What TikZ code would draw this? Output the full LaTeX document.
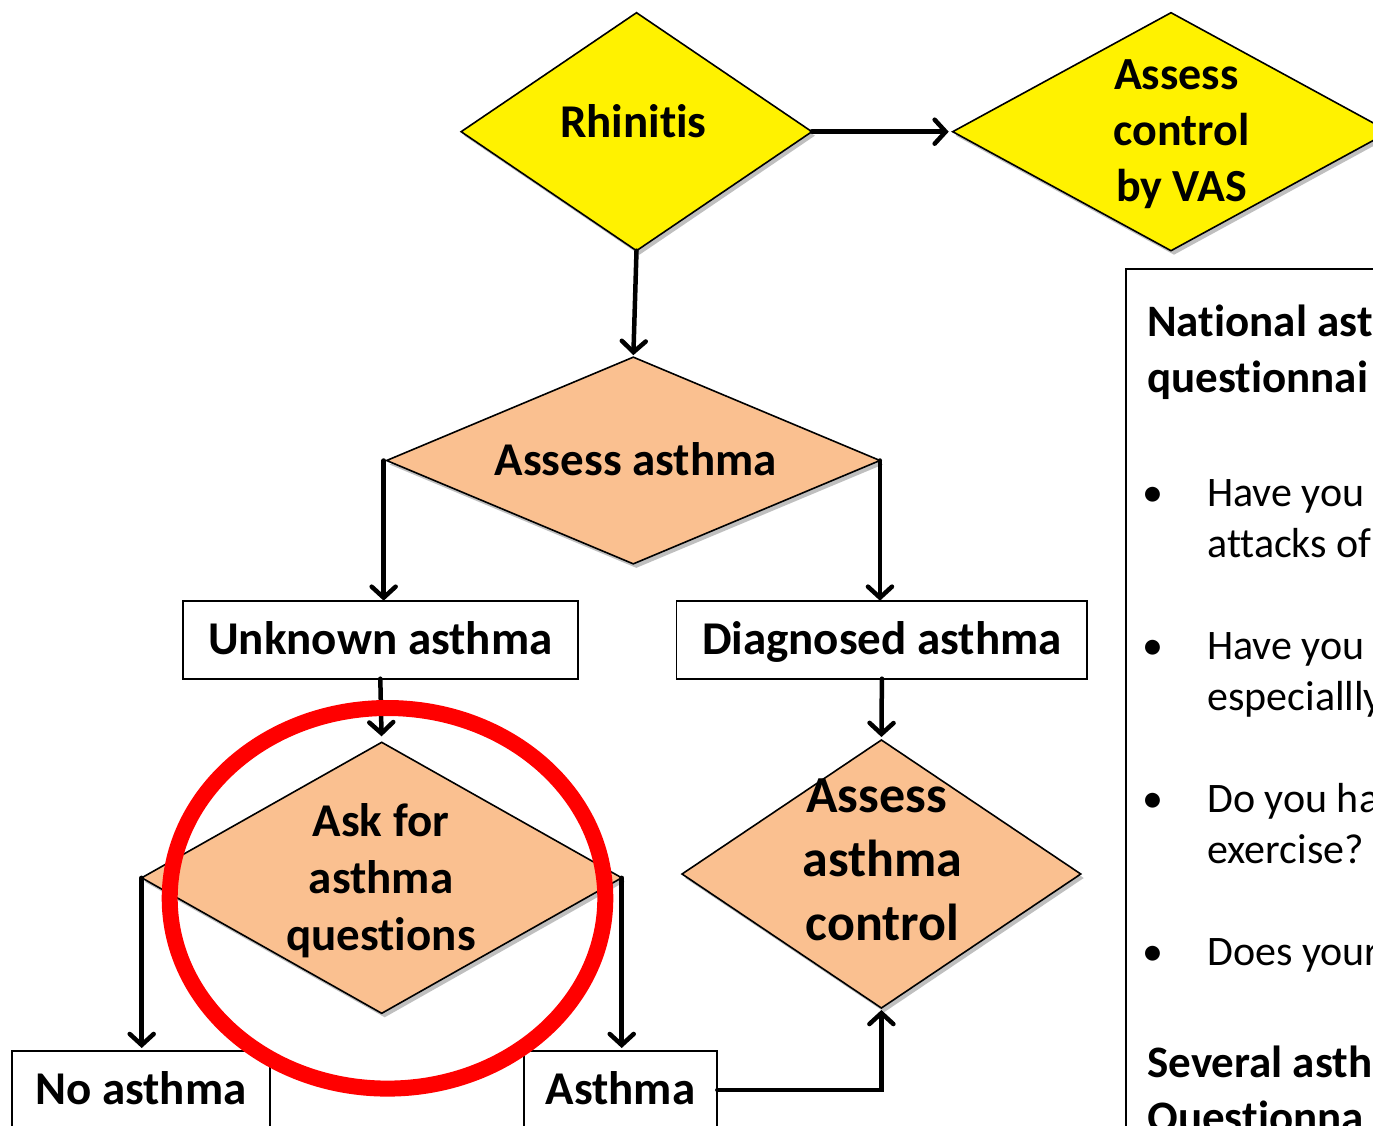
\documentclass[tikz,border=0pt]{standalone}
\usepackage{fontspec}
\setmainfont{Carlito}[Ligatures=NoCommon]
\usetikzlibrary{shapes.geometric,arrows.meta,shadows}
\definecolor{peach}{HTML}{FAC090}
\newcommand{\ctrtext}[3]{\parbox[t]{600pt}{\centering\fontsize{#1}{#2}\selectfont\bfseries #3}}
\newcommand{\lfttext}[3]{\parbox[t]{400pt}{\raggedright\fontsize{#1}{#2}\selectfont #3}}
\begin{document}
\begin{tikzpicture}[x=1pt,y=-1pt,
  dia/.style={shape=diamond, draw=black, line width=1.6pt, inner sep=0pt, outer sep=0pt,
    drop shadow={shadow xshift=3pt, shadow yshift=-4pt, opacity=0.25, fill=black}},
  box/.style={draw=black, line width=1.8pt, fill=white, inner sep=0pt, outer sep=0pt,
    minimum height=78pt, text height=34pt, text depth=4.8pt,
    font=\fontsize{47}{57}\selectfont\bfseries},
  lbl/.style={inner sep=0pt, outer sep=0pt, anchor=base},
  lblw/.style={inner sep=0pt, outer sep=0pt, anchor=base west},
  arr/.style={line width=4.5pt, line cap=round, -{Straight Barb[length=11pt,width=24pt,line cap=round]}}]
\useasboundingbox (0,0) rectangle (1373,1125);
\clip (0,0) rectangle (1373,1125);

% decision diamonds
\node[dia, fill=yellow, minimum width=350.7pt, minimum height=238pt] (rh) at (636.5,131.7) {};
\node[dia, fill=yellow, minimum width=436.6pt, minimum height=238pt] (vas) at (1171,131.7) {};
\node[dia, fill=peach, minimum width=493.3pt, minimum height=206.7pt] (aa) at (633.3,460.5) {};
\node[dia, fill=peach, minimum width=480pt, minimum height=271pt] (ask) at (381.7,877.8) {};
\node[dia, fill=peach, minimum width=398.7pt, minimum height=268pt] (ctrl) at (881.4,874) {};

% diamond texts
\node[lbl] (rht) at (633.3,137.3) {\ctrtext{47}{57}{Rhinitis}};
\node[lbl] (vast) at (1181.5,89.5) {\ctrtext{46}{56}{Assess\kern0.226em\\control\\by VAS}};
\node[lbl] (aat) at (635.8,475) {\ctrtext{47}{57}{Assess asthma}};
\node[lbl] (askt) at (381,836.7) {\ctrtext{47}{56.7}{Ask for\\asthma\\questions}};
\node[lbl] (ctrlt) at (882.5,812.6) {\ctrtext{52}{64}{Assess\kern0.226em\\asthma\\control}};

% boxes
\node[box, minimum width=395.3pt] (ub) at (380.3,639.7) {Unknown asthma};
\node[box, minimum width=410.8pt] (db) at (881.9,639.7) {Diagnosed asthma};
\node[box, minimum width=258pt] (na) at (140.8,1090) {No asthma};
\node[box, minimum width=193.7pt] (as) at (620.5,1090) {Asthma};

% questionnaire panel
\node[draw=black, line width=2pt, inner sep=0pt, outer sep=0pt, anchor=north west,
      minimum width=400pt, minimum height=1000pt] (qbox) at (1126,268.5) {};
\node[lblw] (qh) at (1147.3,336) {\lfttext{45}{56}{\bfseries National ast\\questionnai}};
\node[lbl] (b1) at (1153.3,506) {\fontsize{42}{51}\selectfont\textbullet};
\node[lblw] (q1) at (1207.3,506) {\lfttext{42}{51}{Have you\\attacks of}};
\node[lbl] (b2) at (1153.3,659) {\fontsize{42}{51}\selectfont\textbullet};
\node[lblw] (q2) at (1207.3,659) {\lfttext{42}{51}{Have you\\especiallly}};
\node[lbl] (b3) at (1153.3,812) {\fontsize{42}{51}\selectfont\textbullet};
\node[lblw] (q3) at (1207.3,812) {\lfttext{42}{51}{Do you ha\\exercise?}};
\node[lbl] (b4) at (1153.3,965) {\fontsize{42}{51}\selectfont\textbullet};
\node[lblw] (q4) at (1207.3,965) {\lfttext{42}{51}{Does your}};
\node[lblw] (qs) at (1147.3,1077) {\lfttext{45}{55}{\bfseries Several asth\\Questionna}};

% connectors
\draw[arr, shorten >=4pt] (rh.east) -- (vas.west);
\draw[arr, shorten >=2pt] (rh.south) -- (aa.north);
\draw[arr] ([xshift=-3pt]aa.west) -- ([xshift=-3pt]aa.west |- ub.north);
\draw[arr] (aa.east) -- (aa.east |- db.north);
\draw[arr, shorten >=6pt] (ub.south) -- (ask.north);
\draw[arr, shorten >=3pt] (db.south) -- (ctrl.north);
\draw[arr, shorten >=3pt] (ask.west) -- (ask.west |- na.north);
\draw[arr, shorten >=3pt] (ask.east) -- (ask.east |- as.north);
\draw[arr, shorten >=2pt] (as.east) -| (ctrl.south);

% highlight
\draw[red, line width=16pt] (387.5,898.3) ellipse [x radius=217.8, y radius=190.3];
\end{tikzpicture}
\end{document}
